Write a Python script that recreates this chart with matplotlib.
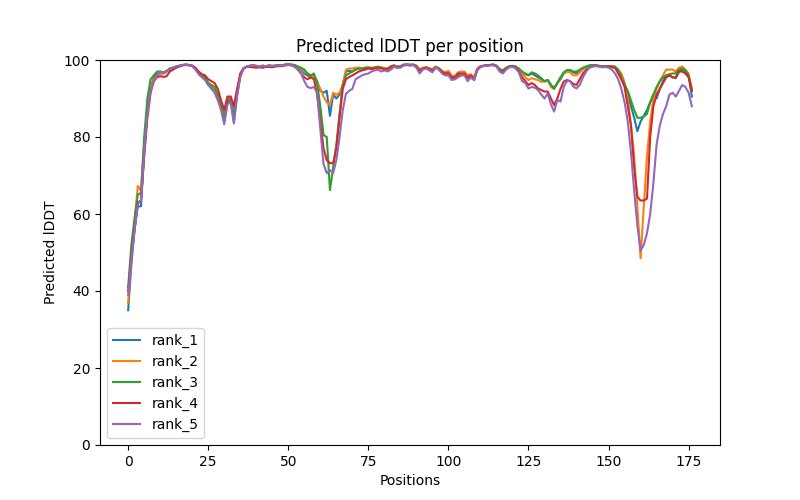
import numpy as np
import matplotlib
matplotlib.use("Agg")
import matplotlib.pyplot as plt

rank_1 = [35, 47, 56, 62, 62, 76, 87, 92.5, 95.5, 96.5,
          96.5, 96.5, 97, 97.8, 98, 98.3, 98.5, 98.7, 98.8, 98.7,
          98.5, 97.8, 96.5, 95.8, 95.2, 93.5, 93, 92, 90, 88,
          84, 89, 89.5, 84, 91, 96, 97.8, 98.3, 98.5, 98.6,
          98.4, 98.3, 98.5, 98.3, 98.6, 98.4, 98.5, 98.6, 98.5, 98.8,
          98.9, 98.8, 98.5, 98, 97.5, 96.5, 96, 95.5, 96, 94.5,
          92, 91.5, 92, 85.5, 91, 90, 91, 93.5, 97, 97.2,
          97, 97.5, 97.8, 97.8, 97.9, 98, 97.8, 98, 98.2, 98,
          97.8, 97.6, 98.3, 98.5, 98.2, 98.3, 98.7, 98.8, 98.7, 98.8,
          98.5, 97.5, 97.8, 98, 97.8, 97.3, 98.2, 97.8, 97, 96.5,
          96.8, 95.5, 95.2, 96, 96.3, 96.5, 95.3, 95.8, 95, 97.5,
          98.3, 98.5, 98.6, 98.7, 98.8, 98.5, 97.5, 97, 97.8, 98.3,
          98.4, 98.2, 97.3, 96.8, 96.3, 96, 96.5, 96, 95.5, 95,
          94.5, 94.8, 93.5, 92.8, 94, 95, 96.5, 97, 97.3, 96.8,
          96.5, 97, 97.8, 98.2, 98.5, 98.6, 98.6, 98.4, 98.2, 98.3,
          98.3, 98.2, 98, 97.3, 96.2, 94, 91, 88, 85, 81.5,
          84, 85.5, 87, 89, 91, 90, 92.5, 94.5, 96, 96,
          95.5, 95.3, 97, 97.5, 97, 96, 90.5]

rank_2 = [37, 50, 58, 67.3, 66, 78, 88, 93, 95, 96,
          96.5, 96.5, 97, 97.6, 98, 98.3, 98.5, 98.7, 98.8, 98.7,
          98.5, 97.6, 96.7, 96, 95.5, 94, 93.5, 92.5, 90.5, 87.5,
          86, 90, 90.5, 86, 91.5, 96, 97.8, 98.3, 98.5, 98.6,
          98.5, 98.3, 98.5, 98.4, 98.6, 98.4, 98.5, 98.6, 98.6, 98.8,
          98.9, 98.8, 98.6, 98.2, 97.8, 97, 96.5, 96, 95.5, 94,
          92.5, 90.5, 89, 88.3, 91.5, 91, 91.5, 93.5, 97.5, 97.8,
          97.8, 98, 98, 97.9, 98, 98.1, 98, 98.1, 98.3, 98.1,
          97.9, 97.8, 98.4, 98.6, 98.3, 98.4, 98.8, 98.8, 98.7, 98.8,
          98.5, 97.5, 98, 98.2, 97.9, 97.6, 98.3, 97.9, 97.2, 96.8,
          97.2, 96, 95.8, 96.8, 97, 97, 96, 96.3, 95.5, 97.8,
          98.4, 98.5, 98.6, 98.7, 98.8, 98.5, 97.6, 97.2, 97.9, 98.3,
          98.4, 98.2, 97.3, 96.5, 95.5, 94.8, 95.3, 95, 94.8, 94.3,
          94.5, 94.8, 93, 92.5, 94, 95.5, 96.5, 97, 96.8, 96,
          96, 96.8, 97.6, 98.2, 98.5, 98.6, 98.6, 98.4, 98.2, 98.3,
          98.3, 98.2, 98, 97.5, 96.5, 94, 90, 83, 75, 62,
          48.5, 62, 75, 84, 90, 92.5, 94.5, 96, 97.5, 97.5,
          97.5, 97, 98, 98.3, 97.5, 96.5, 92]

rank_3 = [41, 52, 59, 65, 65.5, 80, 90, 95, 96, 97,
          97, 96.8, 97.2, 97.8, 98, 98.3, 98.5, 98.7, 98.8, 98.7,
          98.5, 97.8, 96.8, 96, 95.5, 94, 93.5, 93, 91, 88,
          85, 89.5, 90, 85, 91.5, 96, 97.8, 98.3, 98.5, 98.6,
          98.5, 98.3, 98.5, 98.4, 98.6, 98.5, 98.6, 98.7, 98.6, 98.8,
          98.9, 98.8, 98.7, 98.3, 98, 97.5, 96.5, 96, 96.5, 94,
          88, 80.5, 80, 66.2, 72, 78, 86, 93.5, 96, 96.5,
          97, 97.5, 97.8, 97.8, 98, 98, 97.9, 98, 98.2, 98,
          97.8, 97.6, 98.3, 98.6, 98.2, 98.3, 98.8, 98.9, 98.8, 98.8,
          98.4, 97.3, 97.8, 98, 97.7, 97.2, 98.2, 97.7, 96.8, 96.3,
          96.5, 95.3, 95, 95.8, 96, 96.2, 95, 95.5, 94.8, 97.5,
          98.3, 98.5, 98.6, 98.7, 98.8, 98.5, 97.6, 97.3, 98, 98.4,
          98.5, 98.3, 97.8, 97, 96.5, 96.1, 96.8, 96.5, 96, 95.3,
          94.4, 94.8, 93.5, 92.5, 94, 95.5, 96.8, 97.4, 97.4, 97,
          97, 97.5, 98, 98.3, 98.6, 98.7, 98.7, 98.5, 98.4, 98.4,
          98.4, 98.4, 98.3, 97.5, 95.5, 93.5, 92, 89.5, 87, 85,
          85, 85.3, 86, 89, 91, 93, 94.5, 95.5, 96, 96.3,
          96.5, 96.5, 97.5, 97.8, 97.3, 96, 92.5]

rank_4 = [40, 49, 56, 63, 63.5, 75, 85, 91.5, 94.5, 95.5,
          95.8, 95.6, 95.8, 97, 97.5, 98, 98.3, 98.6, 98.7, 98.6,
          98.5, 98, 97, 96.3, 96, 95, 94.5, 94, 92.5, 89.5,
          87, 90.5, 90.5, 88, 92.5, 96.5, 97.8, 98.2, 98.2, 98.1,
          98, 98.1, 98, 98.2, 98.2, 98.1, 98.3, 98.4, 98.4, 98.6,
          98.7, 98.6, 98.3, 97.5, 96.5, 95.5, 95, 95.5, 95, 91,
          84, 77, 74, 73.2, 73.2, 77, 85, 92.5, 95, 95.6,
          96, 96.5, 97, 97.3, 97.5, 97.8, 97.6, 97.9, 98, 97.8,
          97.6, 97.5, 98.2, 98.4, 98, 98.2, 98.6, 98.7, 98.6, 98.7,
          98.3, 97.3, 97.7, 98, 97.6, 97.3, 98, 97.7, 96.9, 96.5,
          96.5, 95.5, 95.5, 96.5, 96.5, 96.5, 95.5, 96, 95, 97.5,
          98.3, 98.5, 98.6, 98.7, 98.7, 98.4, 97.3, 96.8, 97.7, 98.2,
          98.3, 98, 97, 95.5, 94.5, 93.5, 94, 93.5, 92.6, 92.2,
          91.8, 91.8, 90, 88.3, 90, 92.5, 94.4, 94.8, 94.5, 93.8,
          93.5, 95, 96.5, 97.5, 98, 98.4, 98.5, 98.4, 98.2, 98.3,
          98.3, 98.2, 98, 96.5, 95, 93, 88, 83, 72, 64.5,
          63.5, 63.5, 64, 80, 88, 91, 92.5, 94, 95.5, 96,
          95.5, 95.5, 97, 97, 96.5, 95.5, 92]

rank_5 = [39, 48, 56, 62.5, 63.6, 76, 86, 92, 94.5, 96,
          97, 96.7, 97, 97.7, 98, 98.3, 98.5, 98.7, 98.8, 98.7,
          98.4, 97.5, 96.3, 95.5, 94.8, 93.5, 92.5, 91.5, 89.5, 87,
          83.3, 88.5, 89, 83.5, 90.5, 95.5, 97.8, 98.3, 98.5, 98.6,
          98.4, 98.3, 98.5, 98.3, 98.5, 98.4, 98.5, 98.6, 98.5, 98.7,
          98.8, 98.6, 98.2, 97.5, 96.5, 94.5, 93, 92.7, 93, 91.5,
          82, 73, 70.6, 71.4, 70.6, 74, 80, 87, 91.2, 92,
          92.5, 95, 95.5, 96, 96.3, 96.5, 97, 97.3, 97.5, 97,
          97.3, 97, 97.5, 98.2, 98, 98, 98.6, 98.7, 98.6, 98.7,
          98, 96.5, 97.5, 97.8, 97.3, 96.8, 98, 97.5, 96.5, 96,
          96, 94.8, 95, 95.5, 96, 96, 94.5, 95.5, 94.8, 97.3,
          98.2, 98.4, 98.5, 98.6, 98.6, 98.3, 97, 96.5, 97.5, 98.1,
          98.2, 97.8, 96.8, 94.5, 94, 92.6, 93, 92.8, 92.2, 91,
          90, 91.3, 88.5, 86.6, 89.6, 89.2, 93, 94.5, 94.5, 93.1,
          92.6, 93.5, 95.5, 97, 98, 98.3, 98.4, 98.3, 98.1, 98.2,
          98, 97.5, 96.5, 95, 92.5, 89, 84, 76, 66, 57,
          50.5, 52, 55, 60, 68, 78, 83, 86, 88, 91,
          91.5, 90.5, 92, 93.5, 93, 91.5, 88]

ranks = {"rank_1": rank_1, "rank_2": rank_2, "rank_3": rank_3,
         "rank_4": rank_4, "rank_5": rank_5}

plt.figure(figsize=(8, 5), dpi=100)
for name, plddt in ranks.items():
  plt.plot(np.arange(len(plddt)), plddt, label=name)
plt.title("Predicted lDDT per position")
plt.legend()
plt.ylim(0, 100)
plt.ylabel("Predicted lDDT")
plt.xlabel("Positions")
plt.savefig("out.png", dpi=100)
